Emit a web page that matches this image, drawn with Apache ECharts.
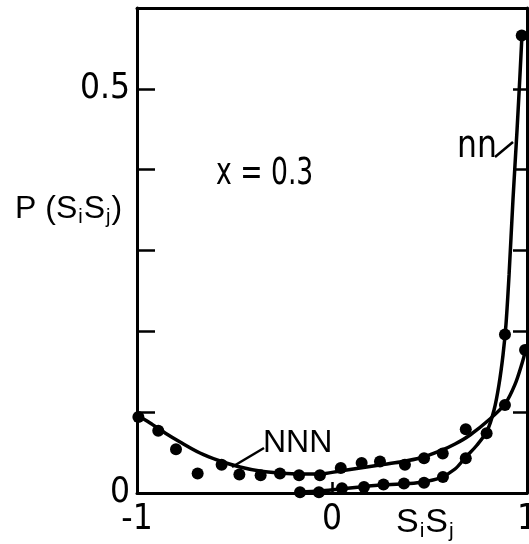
<!DOCTYPE html>
<html>
<head>
<meta charset="utf-8">
<script src="https://cdn.jsdelivr.net/npm/echarts@6/dist/echarts.min.js"></script>
<style>
html,body{margin:0;padding:0;background:#fff;}
#c{width:529px;height:544px;}
</style>
</head>
<body>
<div id="c"></div>
<script>
// ---- data ----
const nnnPointsX = [-0.993, -0.891, -0.800, -0.689, -0.566, -0.475, -0.366, -0.267, -0.169, -0.062, 0.045, 0.152, 0.246, 0.374, 0.472, 0.568, 0.686, 0.887, 0.990];
const nnnPointsY = [0.094, 0.077, 0.054, 0.024, 0.035, 0.023, 0.022, 0.024, 0.022, 0.022, 0.031, 0.037, 0.039, 0.035, 0.043, 0.049, 0.079, 0.109, 0.177];

const nnPointsX = [-0.164, -0.067, 0.051, 0.164, 0.264, 0.369, 0.472, 0.569, 0.686, 0.793, 0.887, 0.973];
const nnPointsY = [0.001, 0.001, 0.006, 0.0074, 0.0105, 0.0118, 0.0127, 0.0198, 0.043, 0.074, 0.196, 0.566];

const nnnCurveX = [-1.0, -0.933, -0.856, -0.779, -0.677, -0.574, -0.472, -0.369, -0.267, -0.164, -0.062, 0.041, 0.144, 0.246, 0.349, 0.451, 0.554, 0.631, 0.708, 0.810, 0.887, 0.938, 0.974, 1.0];
const nnnCurveY = [0.0965, 0.0866, 0.0743, 0.0631, 0.0495, 0.0396, 0.0322, 0.0272, 0.0248, 0.0235, 0.0235, 0.0272, 0.0309, 0.0347, 0.0384, 0.0433, 0.052, 0.0606, 0.0718, 0.0916, 0.110, 0.134, 0.160, 0.183];

const nnCurveX = [-0.174, -0.062, 0.041, 0.144, 0.246, 0.349, 0.451, 0.554, 0.631, 0.682, 0.744, 0.795, 0.831, 0.856, 0.877, 0.892, 0.908, 0.928, 0.949, 0.964, 0.974];
const nnCurveY = [0.001, 0.0025, 0.005, 0.0074, 0.0099, 0.0111, 0.013, 0.0186, 0.0297, 0.0433, 0.0594, 0.0767, 0.1027, 0.1337, 0.1708, 0.2079, 0.2698, 0.3626, 0.4493, 0.5173, 0.5656];

const xTickValues = [-1, 0, 1];
const xTickLabels = ['-1', '0', '1'];
const yTickValues = [0, 0.5];
const yTickLabels = ['0', '0.5'];

// ---- chart ----
const zip = (xs, ys) => xs.map((x, i) => [x, ys[i]]);
const NARROW = "'Liberation Sans Narrow','DejaVu Sans Condensed','Liberation Sans',sans-serif";
const REG = "'Liberation Sans','DejaVu Sans',sans-serif";
const AX = {color: '#000', width: 3};

const chart = echarts.init(document.getElementById('c'), null, {renderer: 'canvas'});
chart.setOption({
  animation: false,
  backgroundColor: '#fff',
  grid: {left: 137, right: 2, top: 8, bottom: 51, containLabel: false, outerBoundsMode: 'none'},
  xAxis: [{
    type: 'value', min: -1, max: 1, interval: 1, position: 'bottom',
    axisLine: {show: true, onZero: false, lineStyle: AX},
    axisTick: {show: true, inside: true, length: 11, lineStyle: {color: '#000', width: 2.5}},
    splitLine: {show: false},
    axisLabel: {
      color: '#000', fontSize: 35, fontFamily: NARROW, margin: 9,
      formatter: v => { const i = xTickValues.indexOf(v); return i >= 0 ? xTickLabels[i] : ''; }
    }
  }, {
    type: 'value', min: -1, max: 1, position: 'top',
    axisLine: {show: true, onZero: false, lineStyle: AX},
    axisTick: {show: false}, axisLabel: {show: false}, splitLine: {show: false}
  }],
  yAxis: [{
    type: 'value', min: 0, max: 0.6, interval: 0.1, position: 'left',
    axisLine: {show: true, onZero: false, lineStyle: AX},
    axisTick: {show: true, inside: true, length: 18, lineStyle: {color: '#000', width: 2.5}},
    splitLine: {show: false},
    axisLabel: {
      color: '#000', fontSize: 35, fontFamily: NARROW, margin: 7,
      formatter: v => { const i = yTickValues.findIndex(t => Math.abs(t - v) < 1e-9); return i >= 0 ? yTickLabels[i] : ''; }
    }
  }, {
    type: 'value', min: 0, max: 0.6, interval: 0.1, position: 'right',
    axisLine: {show: true, onZero: false, lineStyle: AX},
    axisTick: {show: true, inside: true, length: 14, lineStyle: {color: '#000', width: 2.5}},
    axisLabel: {show: false}, splitLine: {show: false}
  }],
  series: [
    {type: 'line', name: 'NNN curve', data: zip(nnnCurveX, nnnCurveY), showSymbol: false, symbol: 'none',
     smooth: 0.3, lineStyle: {color: '#000', width: 3.5}, z: 3},
    {type: 'line', name: 'nn curve', data: zip(nnCurveX, nnCurveY), showSymbol: false, symbol: 'none',
     smooth: 0.3, lineStyle: {color: '#000', width: 3.5}, z: 3},
    {type: 'scatter', name: 'NNN', data: zip(nnnPointsX, nnnPointsY), symbolSize: 12,
     itemStyle: {color: '#000', opacity: 1}, z: 4},
    {type: 'scatter', name: 'nn', data: zip(nnPointsX, nnPointsY), symbolSize: 12,
     itemStyle: {color: '#000', opacity: 1}, z: 4}
  ],
  graphic: [
    {type: 'text', left: 15, top: 193, z: 10, style: {
      text: '{m|P (S}{s|i}{m|S}{s|j}{m|)}', fill: '#000',
      rich: {m: {fontSize: 32, fontFamily: REG, fill: '#000'},
             s: {fontSize: 20, fontFamily: REG, fill: '#000', padding: [16, 1, 0, 1]}}
    }},
    {type: 'text', left: 396, top: 506, z: 10, style: {
      text: '{m|S}{s|i}{m|S}{s|j}', fill: '#000',
      rich: {m: {fontSize: 34, fontFamily: REG, fill: '#000'},
             s: {fontSize: 21, fontFamily: REG, fill: '#000', padding: [16, 1, 0, 1]}}
    }},
    {type: 'text', x: 216, y: 156, scaleX: 0.8, z: 10, style: {
      text: 'x = 0.3', fill: '#000', fontSize: 37, fontFamily: NARROW
    }},
    {type: 'text', x: 457, y: 128, scaleX: 0.92, z: 10, style: {
      text: 'nn', fill: '#000', fontSize: 38, fontFamily: NARROW
    }},
    {type: 'line', z: 10, shape: {x1: 495, y1: 157, x2: 513, y2: 142}, style: {stroke: '#000', lineWidth: 2.5}},
    {type: 'text', left: 263, top: 427, z: 10, style: {
      text: 'NNN', fill: '#000', fontSize: 32, fontFamily: REG
    }},
    {type: 'line', z: 10, shape: {x1: 264, y1: 448, x2: 232, y2: 467}, style: {stroke: '#000', lineWidth: 2.5}}
  ]
});
</script>
</body>
</html>
